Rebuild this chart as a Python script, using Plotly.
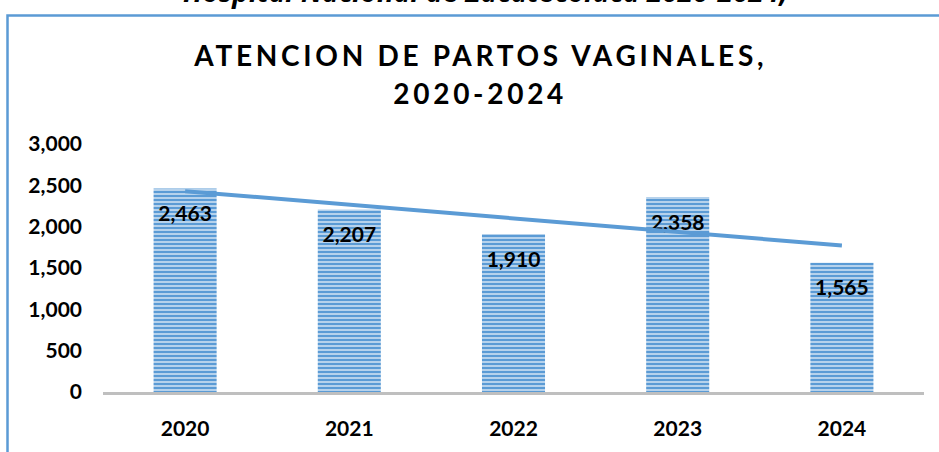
import numpy as np
import plotly.graph_objects as go

# ---- data ----
years = ["2020", "2021", "2022", "2023", "2024"]
partos = [2463, 2207, 1910, 2358, 1565]
y_ticks = [0, 500, 1000, 1500, 2000, 2500, 3000]
title_line1 = "ATENCION DE PARTOS VAGINALES,"
title_line2 = "2020-2024"
top_text = "Hospital Nacional de Zacatecoluca 2020-2024,"

# ---- layout geometry (pixels) ----
W, H = 939, 452
L, R, T, B = 103, 15, 144, 55
PW, PH = W - L - R, H - T - B
YMAX = 3000

def px_x(p):
    return (p - L) / PW

def px_y(p):
    return (H - B - p) / PH

BLUE = "#5B9BD5"
FONT_NUM = dict(family="Lato", size=21, color="#000000", weight="bold")
FONT_TITLE = dict(family="Lato", size=28, color="#000000", weight="bold")

# linear trend line computed from the data
idx = np.arange(len(partos))
slope, icpt = np.polyfit(idx, partos, 1)
trend = slope * idx + icpt

label_off = 28 / PH * YMAX  # value labels sit ~28px under the bar top

fig = go.Figure()
fig.add_trace(go.Bar(
    x=years, y=partos, width=0.384,
    marker=dict(
        color=BLUE, line=dict(width=0),
        pattern=dict(shape="-", fillmode="replace", bgcolor=BLUE,
                     fgcolor="#E6EFF9", size=4, solidity=0.33),
    ),
    hoverinfo="x+y", showlegend=False,
))
fig.add_trace(go.Scatter(
    x=years, y=[v - label_off for v in partos], mode="text",
    text=[f"{v:,}" for v in partos], textposition="middle center",
    textfont=FONT_NUM, cliponaxis=False, showlegend=False, hoverinfo="skip",
))
fig.add_trace(go.Scatter(
    x=years, y=trend, mode="lines",
    line=dict(color=BLUE, width=4), showlegend=False, hoverinfo="skip",
))

annotations = [
    dict(text=title_line1, x=px_x(480), y=px_y(53), xref="paper", yref="paper",
         xanchor="center", yanchor="middle", showarrow=False, font=FONT_TITLE),
    dict(text=title_line2, x=px_x(480), y=px_y(92), xref="paper", yref="paper",
         xanchor="center", yanchor="middle", showarrow=False, font=FONT_TITLE),
    dict(text=top_text, x=px_x(485), y=px_y(9), xref="paper", yref="paper",
         xanchor="center", yanchor="bottom", showarrow=False,
         font=dict(family="Open Sans", size=28, color="#000000", weight="bold",
                   style="italic")),
]

shapes = [
    dict(type="rect", xref="paper", yref="paper",
         x0=px_x(7.5), x1=px_x(W + 20), y0=px_y(H + 20), y1=px_y(13),
         line=dict(color=BLUE, width=2.5), fillcolor="rgba(0,0,0,0)", layer="below"),
]

fig.update_layout(
    width=W, height=H,
    margin=dict(l=L, r=R, t=T, b=B, pad=0),
    paper_bgcolor="white", plot_bgcolor="white",
    annotations=annotations, shapes=shapes,
    xaxis=dict(type="category", range=[-0.5, 4.5], showgrid=False, zeroline=False,
               showline=True, linecolor="#BFBFBF", linewidth=3, ticks="",
               tickfont=FONT_NUM, ticklabelstandoff=16, fixedrange=True),
    yaxis=dict(range=[0, YMAX], tickvals=y_ticks, tickformat=",", showgrid=False,
               zeroline=False, showline=False, ticks="", tickfont=FONT_NUM,
               ticklabelstandoff=20, fixedrange=True),
)

post_js = (
    "document.body.style.margin='0';"
    "document.querySelectorAll('g.annotation text.annotation-text').forEach(function(t){"
    "var s=t.textContent;"
    "if(s.indexOf('ATENCION')===0||s==='2020-2024'){t.style.letterSpacing='3.7px';}"
    "});"
)
fig.write_html("out.html", config={"displayModeBar": False}, post_script=post_js)
